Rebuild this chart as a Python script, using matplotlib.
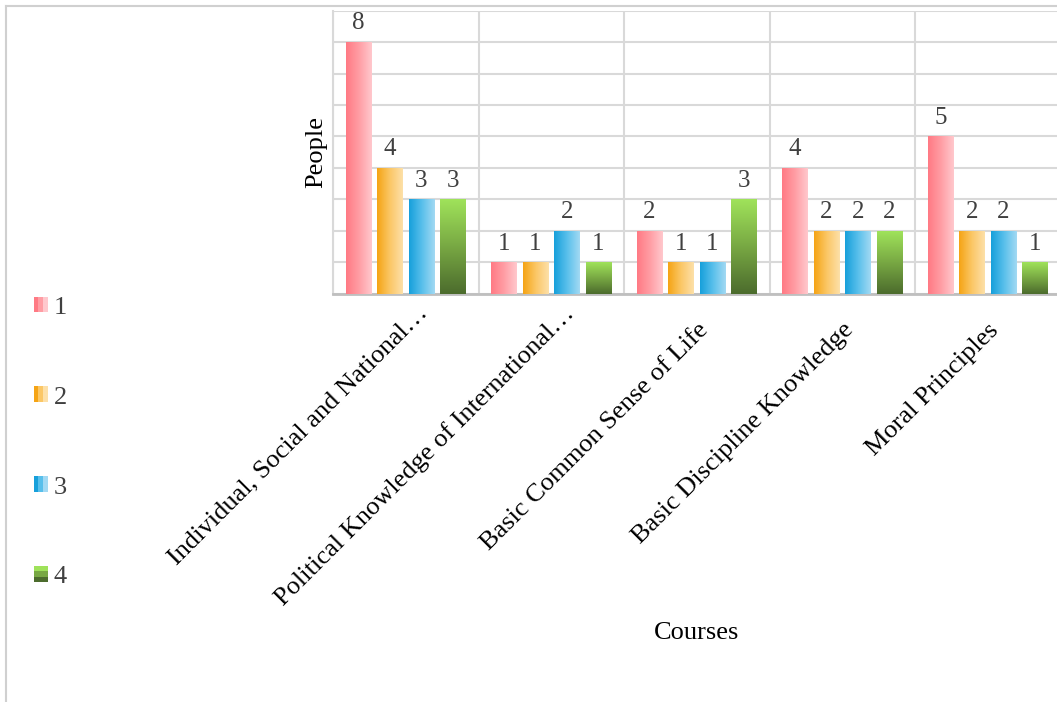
import numpy as np
import matplotlib
matplotlib.use('Agg')
import matplotlib.pyplot as plt
import matplotlib.transforms as mtransforms
from matplotlib.colors import LinearSegmentedColormap
from matplotlib.patches import Rectangle
from matplotlib.legend_handler import HandlerBase
from matplotlib.lines import Line2D

plt.rcParams['font.family'] = ['Liberation Serif', 'DejaVu Serif']

courses = ['Individual, Social and National…',
           'Political Knowledge of International…',
           'Basic Common Sense of Life',
           'Basic Discipline Knowledge',
           'Moral Principles']
series_names = ['1', '2', '3', '4']
s1 = [8, 1, 2, 4, 5]
s2 = [4, 1, 1, 2, 2]
s3 = [3, 2, 1, 2, 2]
s4 = [3, 1, 3, 2, 1]
values = [s1, s2, s3, s4]

# gradient stops (left->right for 1-3, top->bottom for 4)
stops = [['#FF7A84', '#FF9DA4', '#FFC8CD'],
         ['#F5A415', '#FBC766', '#FDE0A8'],
         ['#17A0DB', '#58BFEB', '#A2D9F3'],
         ['#9FE25A', '#78A843', '#4C6C2D']]
vertical = [False, False, False, True]

fig = plt.figure(figsize=(10.57, 7.02), dpi=100)
W, H = 1057, 702
ax = fig.add_axes([333 / W, (H - 294) / H, 727.5 / W, 283.5 / H])

n = len(courses)
bw = 0.175
step = 0.2165
x = np.arange(n)
for i, vals in enumerate(values):
    cmap = LinearSegmentedColormap.from_list('g%d' % i, stops[i])
    grad = np.linspace(0, 1, 64)
    img = grad.reshape(-1, 1) if vertical[i] else grad.reshape(1, -1)
    for j, v in enumerate(vals):
        x0 = x[j] + 0.0876 + i * step
        ax.imshow(img, cmap=cmap, extent=(x0, x0 + bw, 0, v), aspect='auto',
                  origin='upper', interpolation='bilinear', zorder=3)
        ax.text(x0 + bw / 2, v + 0.25, str(v), ha='center', va='bottom',
                fontsize=18, color='#404040', zorder=4)

ax.set_xlim(0, n)
ax.set_ylim(0, 9)
ax.set_xticks(np.arange(n + 1), minor=False)
ax.set_xticklabels([])
ax.set_xticks(x + 0.5, minor=True)
ax.set_xticklabels(courses, minor=True, rotation=45, ha='right', va='top',
                   rotation_mode='anchor', fontsize=19)
ax.tick_params(axis='x', which='both', length=0)
ax.tick_params(axis='x', which='minor', pad=18)
# truncated labels sit a bit further up along their direction
for lab in ax.get_xticklabels(minor=True):
    if lab.get_text().endswith('…'):
        lab.set_transform(lab.get_transform() + mtransforms.ScaledTranslation(
            11 / 100, 17 / 100, fig.dpi_scale_trans))
ax.set_yticks(np.arange(0, 10))
ax.set_yticklabels([])
ax.tick_params(axis='y', length=0)
ax.grid(True, which='major', color='#D9D9D9', linewidth=1.5, zorder=0)
ax.set_axisbelow(True)
for s in ['top', 'right']:
    ax.spines[s].set_visible(False)
ax.spines['left'].set_color('#D9D9D9')
ax.spines['left'].set_linewidth(1.5)
ax.spines['bottom'].set_color('#BFBFBF')
ax.spines['bottom'].set_linewidth(2)

ax.set_ylabel('People', fontsize=19)
ax.yaxis.set_label_coords(-17 / 727.5, 0.5)
ax.yaxis.label.set_va('center')
ax.set_xlabel('Courses', fontsize=19)
ax.xaxis.set_label_coords(0.5, (294 - 633) / 283.5)
ax.xaxis.label.set_va('center')


class GradHandler(HandlerBase):
    def __init__(self, cols, vert):
        super().__init__()
        self.cols = cols
        self.vert = vert

    def create_artists(self, legend, orig_handle, xdescent, ydescent, width,
                       height, fontsize, trans):
        arts = []
        k = len(self.cols)
        for m, c in enumerate(self.cols):
            if self.vert:
                r = Rectangle((-xdescent, -ydescent + height * (k - 1 - m) / k),
                              width, height / k, facecolor=c, edgecolor='none',
                              transform=trans)
            else:
                r = Rectangle((-xdescent + width * m / k, -ydescent), width / k,
                              height, facecolor=c, edgecolor='none',
                              transform=trans)
            arts.append(r)
        return arts


handles = [Rectangle((0, 0), 1, 1) for _ in series_names]
hmap = {h: GradHandler(stops[i], vertical[i]) for i, h in enumerate(handles)}
leg = fig.legend(handles, series_names, handler_map=hmap, loc='upper left',
                 bbox_to_anchor=(23 / W, 1 - 286 / H), frameon=False,
                 fontsize=19, handlelength=0.55, handleheight=0.55,
                 handletextpad=0.22, labelspacing=2.56, borderaxespad=0)
for t in leg.get_texts():
    t.set_color('#404040')

# chart frame (top/left visible)
fig.add_artist(Line2D([6 / W, 6 / W], [0, 1 - 6 / H], transform=fig.transFigure,
                      color='#D0D0D0', linewidth=1.5))
fig.add_artist(Line2D([6 / W, 1], [1 - 6 / H, 1 - 6 / H], transform=fig.transFigure,
                      color='#D0D0D0', linewidth=1.5))

fig.savefig('out.png', dpi=100)
